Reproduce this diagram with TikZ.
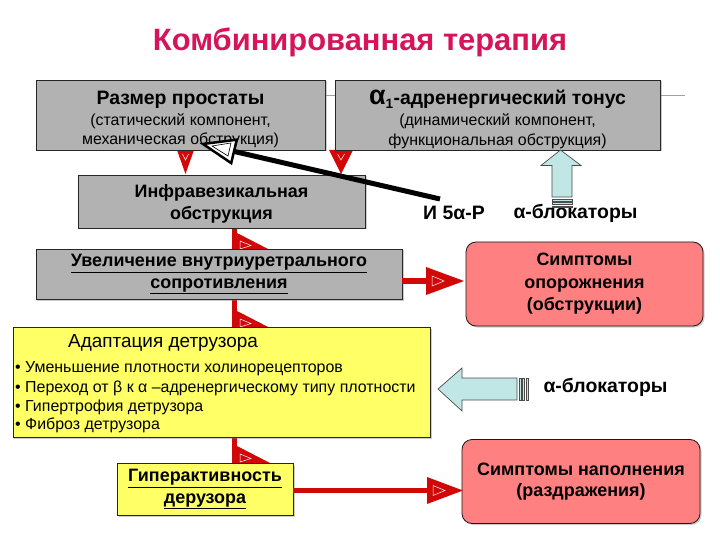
\documentclass[tikz,border=0pt]{standalone}
\usepackage{fontspec}
\setmainfont{Liberation Sans}
\usetikzlibrary{shadows}
\definecolor{titlec}{RGB}{214,20,90}
\definecolor{boxgray}{RGB}{178,178,178}
\definecolor{arrred}{RGB}{210,8,8}
\definecolor{pinkc}{RGB}{255,128,128}
\definecolor{yel}{RGB}{255,255,102}
\definecolor{lblue}{RGB}{192,230,230}
\definecolor{linegray}{RGB}{160,160,160}
\newcommand{\fs}[1]{\fontsize{#1}{#1}\selectfont}
\begin{document}
\begin{tikzpicture}[x=1bp,y=-1bp,
  base/.style={draw=black!85, line width=0.8bp, inner sep=0pt, align=center,
    drop shadow={shadow xshift=1.5bp, shadow yshift=-1.5bp, opacity=0.4}},
  graybox/.style={base, fill=boxgray},
  yelbox/.style={base, fill=yel},
  pinkbox/.style={base, fill=pinkc, rounded corners=10bp, draw=black!90},
  redline/.style={draw=arrred, line width=5.5bp},
  whitemark/.style={draw=white, line width=0.5bp},
  blockarr/.style={fill=lblue, draw=black!70, line width=0.7bp},
  lbl/.style={font=\fs{19.5}\bfseries, inner sep=0pt},
  bul/.style={font=\fs{16}, inner sep=0pt, anchor=west},
  txt/.style={inner sep=0pt, align=center},
]
\useasboundingbox[fill=white] (0,0) rectangle (720,540);

% title
\node[font=\fs{31}\bfseries, text=titlec, inner sep=0pt] (title) at (360,42) {Комбинированная терапия};

% grey rule behind top boxes
\coordinate (gl1) at (300,96);
\coordinate (gl2) at (685,96);
\draw[linegray, line width=1bp] (gl1) -- (gl2);

% red triangles below top boxes
\fill[arrred] (177,150) -- (194,150) -- (185.5,174) -- cycle;
\draw[whitemark] (182.5,154) -- (185.5,160) -- (188.5,154);
\fill[arrred] (329,150) -- (353,150) -- (341,174) -- cycle;
\draw[whitemark] (337.5,154) -- (341,160) -- (344.5,154);

% vertical red connectors
\coordinate (vx) at (234.5,0);
\coordinate (vy1) at (0,228);
\coordinate (vy2) at (0,250);
\coordinate (vy3) at (0,298);
\coordinate (vy4) at (0,328);
\coordinate (vy5) at (0,437);
\coordinate (vy6) at (0,463);
\draw[redline] (vx |- vy1) -- (vx |- vy2);
\draw[redline] (vx |- vy3) -- (vx |- vy4);
\draw[redline] (vx |- vy5) -- (vx |- vy6);
\fill[arrred] (237,233) -- (270,250) -- (237,250) -- cycle;
\draw[whitemark] (240,241) -- (251,245.5) -- (240,249) -- cycle;
\fill[arrred] (237,311) -- (270,328) -- (237,328) -- cycle;
\draw[whitemark] (240,319) -- (251,323.5) -- (240,327) -- cycle;
\fill[arrred] (237,446) -- (270,463) -- (237,463) -- cycle;
\draw[whitemark] (240,454) -- (251,458.5) -- (240,462) -- cycle;

% boxes
\node[graybox, minimum width=289bp, minimum height=70bp] (prost) at (180.5,115) {};
\node[txt] (prostT) at (180.5,119.5)
  {{\fs{19.5}\bfseries Размер простаты}\\[4bp]
   {\fs{16}(статический компонент,}\\[3.5bp]
   {\fs{16}механическая обструкция)}};
\node[graybox, minimum width=325bp, minimum height=70bp] (alpha) at (497.5,115) {};
\node[txt] (alphaT) at (497.5,119.5)
  {{\fs{19.5}\bfseries{\fs{27}α}\textsubscript{1}-адренергический тонус}\\[4bp]
   {\fs{16}(динамический компонент,}\\[3.5bp]
   {\fs{16}функциональная обструкция)}};
\node[graybox, minimum width=287bp, minimum height=53bp, font=\fs{18}\bfseries] (infra) at (221.5,201.5) {};
\node[txt, font=\fs{18}\bfseries] (infraT) at (221.5,203.5)
  {Инфравезикальная\\[4bp]обструкция};
\node[graybox, minimum width=366bp, minimum height=50bp, font=\fs{18}\bfseries] (uvel) at (219,274)
  {\underline{Увеличение внутриуретрального}\\[3.5bp]\underline{сопротивления}};
\node[pinkbox, minimum width=237bp, minimum height=84bp, font=\fs{18}\bfseries] (simp1) at (584.5,284)
  {Симптомы\\[4.5bp]опорожнения\\[4.5bp](обструкции)};
\node[yelbox, minimum width=417bp, minimum height=110bp] (adapt) at (221.5,382.5) {};
\node[yelbox, minimum width=176bp, minimum height=52bp, font=\fs{18}\bfseries] (giper) at (205,489)
  {\underline{Гиперактивность}\\[3.5bp]\underline{дерузора}};
\node[pinkbox, minimum width=238bp, minimum height=84bp, font=\fs{18}\bfseries] (simp2) at (581,481.5)
  {Симптомы наполнения\\[3.5bp](раздражения)};

% yellow box text
\node[font=\fs{19}, inner sep=0pt, anchor=west] (adh) at (68,343) {Адаптация детрузора};
\node[bul] (b1) at (15,369) {• Уменьшение плотности холинорецепторов};
\node[bul] (b2) at (15,388) {• Переход от β к α –адренергическому типу плотности};
\node[bul] (b3) at (15,407) {• Гипертрофия детрузора};
\node[bul] (b4) at (15,425.5) {• Фиброз детрузора};

% horizontal red connectors
\coordinate (hy1) at (0,281);
\coordinate (hy2) at (0,490.5);
\coordinate (hb1) at (427,0);
\draw[redline, line width=6bp] (uvel.east |- hy1) -- (hb1 |- hy1);
\fill[arrred] (426,267) -- (464,281) -- (426,295) -- cycle;
\draw[whitemark] (432,276) -- (444,281) -- (432,286) -- cycle;
\draw[redline] (giper.east |- hy2) -- (hb1 |- hy2);
\fill[arrred] (427,477) -- (463,490.5) -- (427,504) -- cycle;
\draw[whitemark] (433,485.5) -- (445,490.5) -- (433,495.5) -- cycle;

% labels
\node[lbl] (inh) at (454,213) {И 5α-Р};
\node[lbl] (ab1) at (575.5,213) {α-блокаторы};
\node[lbl] (ab2) at (605.5,387) {α-блокаторы};

% light blue up arrow
\draw[blockarr] (560.5,150) -- (581,165.5) -- (572,165.5) -- (572,197) -- (552,197) -- (552,165.5) -- (541,165.5) -- cycle;
\draw[blockarr] (552,199) rectangle (572,201);
\draw[blockarr] (552,202.5) rectangle (572,204.5);
\draw[blockarr] (552,206) rectangle (572,207.5);

% light blue left arrow
\draw[blockarr] (438,389) -- (462,368) -- (462,378) -- (517,378) -- (517,400) -- (462,400) -- (462,411) -- cycle;
\draw[blockarr] (519,378) rectangle (521,400);
\draw[blockarr] (522.5,378) rectangle (524.5,400);
\draw[blockarr] (526,378) rectangle (528,400);

% black inhibitor arrow
\coordinate (bs) at (440,199);
\coordinate (bb) at (234,151.4);
\draw[line width=5bp] (bs) -- (bb);
\draw[fill=white, line width=2.5bp, line join=miter] (203,144) -- (236.8,139.7) -- (231.2,163.1) -- cycle;
\draw[line width=0.6bp] (212,146) -- (231,143) -- (228,156) -- cycle;
\end{tikzpicture}
\end{document}
